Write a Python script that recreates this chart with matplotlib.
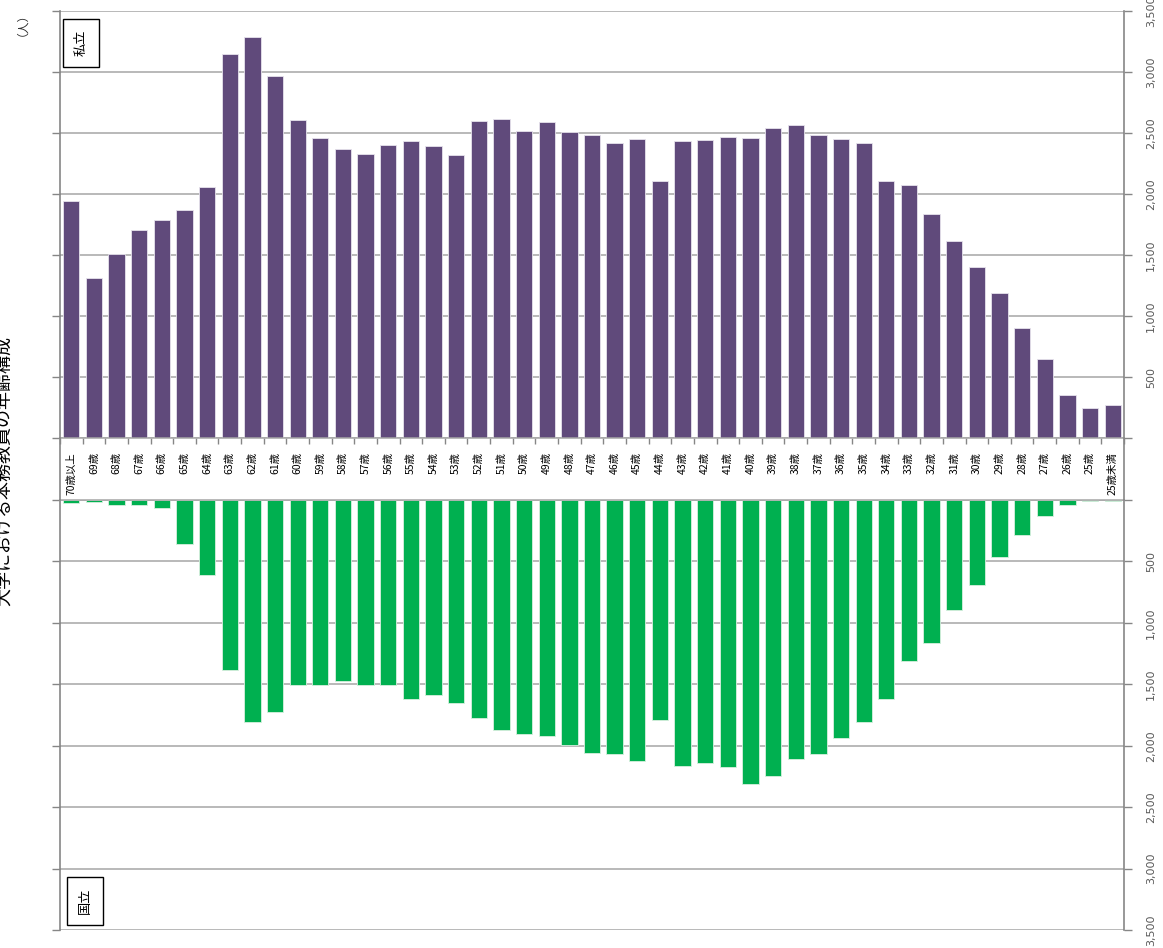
import numpy as np
import matplotlib
matplotlib.use("Agg")
import matplotlib.pyplot as plt
from matplotlib.lines import Line2D

plt.rcParams["font.family"] = ["Noto Sans CJK JP", "DejaVu Sans"]

W, H = 1163, 948

ages = ["70歳以上"] + [f"{a}歳" for a in range(69, 24, -1)] + ["25歳未満"]

# 私立 (private)
private = [1945, 1310, 1510, 1705, 1790, 1870, 2060, 3145, 3290, 2965,
           2605, 2455, 2370, 2330, 2400, 2435, 2395, 2320, 2600, 2615,
           2520, 2590, 2505, 2486, 2421, 2448, 2110, 2432, 2440, 2467,
           2459, 2538, 2566, 2486, 2448, 2421, 2110, 2072, 1833, 1615,
           1400, 1187, 899, 648, 354, 242, 272]

# 国立 (national)
national = [27, 14, 38, 38, 65, 359, 612, 1383, 1805, 1723,
            1502, 1505, 1473, 1505, 1502, 1617, 1590, 1649, 1777, 1875,
            1902, 1921, 1995, 2060, 2071, 2125, 1790, 2169, 2144, 2177,
            2313, 2248, 2106, 2071, 1937, 1809, 1621, 1311, 1163, 896,
            689, 466, 286, 131, 41, 11, 11]

yticks = list(range(0, 3501, 500))

PURPLE = "#604a7b"
GREEN = "#00b050"
GRID = "#a6a6a6"
AXIS = "#868686"
TICKTXT = "#595959"


def fx(px):
    return px / W


def fy(py):
    return 1 - py / H


def style_axis(ax, is_top):
    ax.set_xlim(-0.5, len(ages) - 0.5)
    ax.set_yticks(yticks)
    ax.set_yticklabels(["" if v == 0 else f"{v:,}" for v in yticks],
                       rotation=90, va="center", color=TICKTXT, fontsize=8,
                       family=["DejaVu Sans"])
    ax.tick_params(axis="y", left=True, right=True, labelleft=False,
                   labelright=True, direction="out", length=6, width=1,
                   color=AXIS, pad=10)
    ax.grid(axis="y", color=GRID, linewidth=1.1)
    ax.set_axisbelow(True)
    for side in ("left", "right"):
        ax.spines[side].set_color(AXIS)
        ax.spines[side].set_linewidth(1.2)
    if is_top:
        ax.spines["top"].set_visible(False)
        ax.spines["bottom"].set_color(GRID)
        ax.spines["bottom"].set_linewidth(1.1)
    else:
        ax.spines["bottom"].set_visible(False)
        ax.spines["top"].set_color(GRID)
        ax.spines["top"].set_linewidth(1.1)


fig = plt.figure(figsize=(W / 100, H / 100), dpi=100)

left, right = 60, 1124
ax1 = fig.add_axes([fx(left), fy(438), fx(right - left), fy(11) - fy(438)])
ax2 = fig.add_axes([fx(left), fy(930), fx(right - left), fy(500) - fy(930)])

x = np.arange(len(ages))
ax1.bar(x, private, width=0.72, color=PURPLE, edgecolor="#e6e3ec", linewidth=0.6)
ax2.bar(x, national, width=0.72, color=GREEN, edgecolor="#d8f0df", linewidth=0.6)

ax1.set_ylim(0, 3500)
ax2.set_ylim(3500, 0)
style_axis(ax1, True)
style_axis(ax2, False)

# category labels sit in the band between the two panels
ax1.set_xticks(x)
ax1.set_xticklabels(ages, rotation=90, fontsize=7.5, color="black")
ax1.set_xticks(np.arange(-0.5, len(ages), 1.0), minor=True)
ax1.tick_params(axis="x", which="major", length=0, pad=10)
ax1.tick_params(axis="x", which="minor", length=4, color=AXIS, width=1)
ax2.set_xticks([])

# axis lines run through the label band
for px in (left, right):
    fig.add_artist(Line2D([fx(px), fx(px)], [fy(438), fy(500)],
                          color=AXIS, linewidth=1.2))

box = dict(boxstyle="square,pad=0.85", facecolor="white", edgecolor="black",
           linewidth=1.0)
fig.text(fx(81), fy(43), "私立", rotation=90, fontsize=9.5, ha="center",
         va="center", bbox=box)
fig.text(fx(85), fy(901), "国立", rotation=90, fontsize=9.5, ha="center",
         va="center", bbox=box)

fig.text(fx(16), fy(18), "（人）", rotation=90, fontsize=8.5, ha="center",
         va="center", color="#303030")
fig.text(fx(4), fy(471), "大学における本務教員の年齢構成", rotation=90,
         fontsize=13, ha="center", va="center", color="black")

fig.savefig("out.png", dpi=100)
